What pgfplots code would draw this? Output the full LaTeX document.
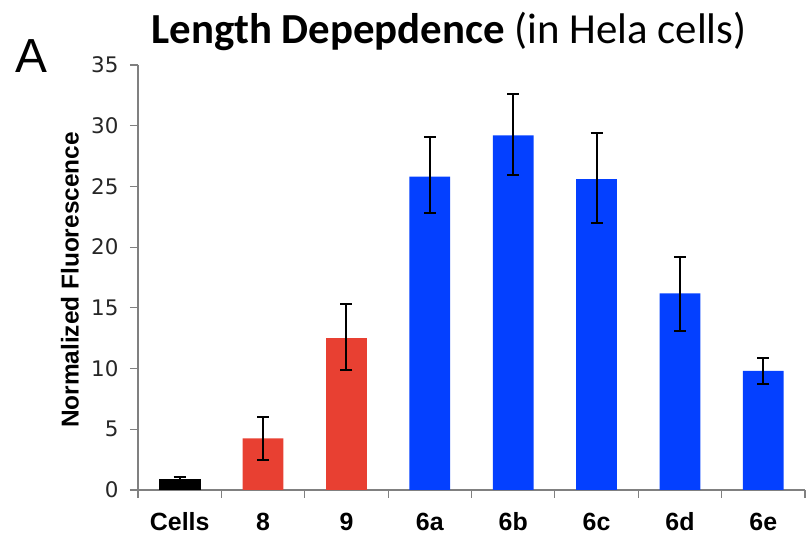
\documentclass[border=0pt]{standalone}
\usepackage{fontspec}
\setmainfont{Liberation Sans}
\newfontfamily\carlito{Carlito}
\newfontfamily\dejavu{DejaVu Sans}
\usepackage{pgfplots}
\pgfplotsset{compat=1.18}
\definecolor{barred}{RGB}{232,64,50}
\definecolor{barblue}{RGB}{4,64,255}
\definecolor{axgray}{RGB}{128,128,128}
\begin{document}
\begin{tikzpicture}[x=1bp,y=1bp]
\path[use as bounding box] (-138,-45) rectangle (668,490);
\begin{axis}[
  at={(0,0)}, anchor=south west,
  scale only axis, width=667bp, height=425bp,
  xmin=-0.5, xmax=7.5, ymin=0, ymax=35,
  axis x line*=bottom, axis y line*=left,
  axis line style={axgray, line width=1.2bp},
  every tick/.style={axgray, line width=1.2bp},
  tick align=outside,
  major tick length=8bp,
  ytick={0,5,...,35},
  xtick={-0.5,0.5,...,7.5},
  xticklabels={},
  extra x ticks={0,1,...,7},
  extra x tick labels={Cells,8,9,6a,6b,6c,6d,6e},
  extra x tick style={major tick length=0pt,
    xticklabel style={font=\bfseries\fontsize{25}{25}\selectfont, text=black, anchor=base, inner sep=0pt, yshift=-41bp}},
  /pgf/number format/assume math mode=true,
  yticklabel style={font=\dejavu\fontsize{21.5}{21.5}\selectfont, text=black!85, xshift=-8bp},
  ylabel={Normalized Fluorescence},
  ylabel style={font=\bfseries\fontsize{24.5}{24.5}\selectfont, at={(axis description cs:-0.102,0.494)}, anchor=center},
  ybar, bar shift=0pt, bar width=0.49,
  error bars/y dir=both, error bars/y explicit,
  error bars/error bar style={black, line width=2bp},
  error bars/error mark options={rotate=90, mark size=6bp, line width=2bp, black},
]
\addplot[fill=black, draw=black] coordinates {
  (0,0.9) += (0,0.15) -= (0,0.15)
};
\addplot[fill=barred, draw=none] coordinates {
  (1,4.26) += (0,1.78) -= (0,1.79)
  (2,12.5) += (0,2.8) -= (0,2.6)
};
\addplot[fill=barblue, draw=none] coordinates {
  (3,25.8) += (0,3.3) -= (0,3.0)
  (4,29.2) += (0,3.4) -= (0,3.3)
  (5,25.6) += (0,3.8) -= (0,3.6)
  (6,16.2) += (0,3.0) -= (0,3.1)
  (7,9.8) += (0,1.1) -= (0,1.1)
};
\end{axis}
\node[anchor=base, inner sep=0pt] at (311,446) {\carlito\fontsize{43}{43}\selectfont\textbf{Length Depepdence} (in Hela cells)};
\node[anchor=base west, inner sep=0pt] at (-123,417) {\fontsize{48}{48}\selectfont A};
\end{tikzpicture}
\end{document}
